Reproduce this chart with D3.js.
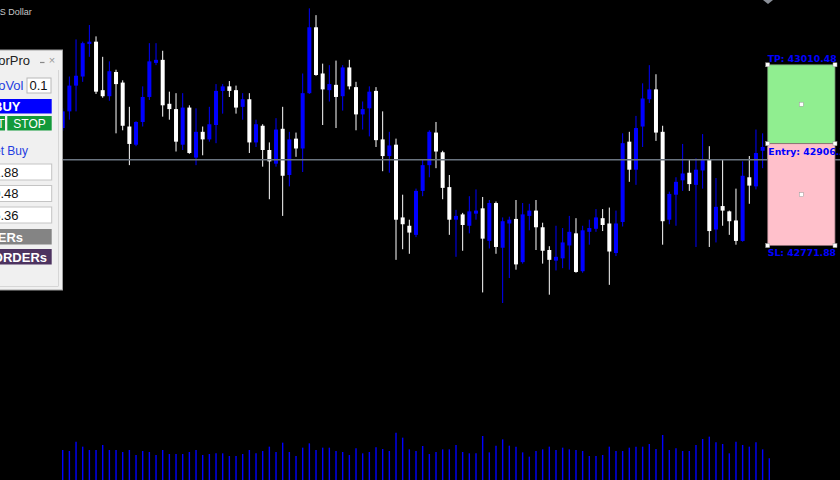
<!DOCTYPE html>
<html><head><meta charset="utf-8">
<script src="https://cdn.jsdelivr.net/npm/d3@7"></script>
<style>html,body{margin:0;padding:0;background:#000;overflow:hidden}</style>
</head><body><svg id="c" width="840" height="480"></svg>
<script>
// ---- data (BTCUSD) ----
const opens  = [42927,42949,42983,42995,43038,43041,42977,42969,43001,42987,42929,42905,42935,42968,43013,43017,42959,42952,42905,42954,42888,42922,42912,42931,42976,42982,42977,42955,42965,42908,42930,42898,42880,42926,42865,42913,42900,42973,43060,42999,42977,42984,42969,43007,42981,42945,42953,42976,42912,42890,42905,42809,42798,42786,42844,42878,42921,42895,42849,42806,42813,42798,42814,42821,42778,42828,42769,42801,42807,42750,42811,42818,42796,42766,42752,42755,42772,42788,42738,42790,42794,42808,42801,42762,42803,42909,42872,42929,42965,42978,42922,42806,42839,42858,42868,42852,42871,42885,42793,42824,42817,42805,42778,42862,42850,42897,42902];
const highs  = [42953,42995,43044,43041,43063,43048,43021,43015,43004,42990,42955,42936,42982,43039,43039,43029,42975,42973,42973,42957,42953,42929,42955,42985,42985,42989,42983,42973,42973,42938,42932,42908,42940,42955,42922,42921,42999,43085,43076,43012,43010,43016,43010,43017,42988,42962,42982,42981,42949,42922,42913,42839,42806,42847,42886,42924,42935,42897,42865,42819,42815,42837,42846,42836,42832,42830,42809,42810,42832,42828,42827,42832,42802,42771,42798,42795,42811,42808,42798,42806,42820,42820,42822,42818,42920,42922,42943,42986,43010,42998,42930,42843,42862,42906,42885,42887,42919,42903,42861,42886,42818,42847,42883,42890,42925,42920,42905];
const lows   = [42923,42938,42949,42988,43021,42972,42967,42963,42920,42924,42878,42903,42929,42964,43010,42942,42938,42896,42898,42893,42878,42891,42909,42907,42946,42968,42946,42938,42894,42902,42876,42833,42876,42811,42850,42889,42869,42972,42996,42931,42962,42927,42950,42978,42924,42925,42916,42902,42870,42868,42753,42767,42761,42783,42837,42862,42874,42833,42786,42757,42765,42788,42806,42710,42768,42761,42696,42729,42740,42748,42792,42766,42748,42707,42739,42742,42740,42736,42736,42773,42790,42791,42720,42758,42797,42856,42852,42902,42960,42910,42773,42800,42798,42844,42844,42770,42847,42770,42776,42798,42786,42773,42777,42827,42846,42874,42882];
const closes = [42949,42983,42996,43039,43041,42975,42969,43002,42985,42930,42906,42935,42968,43015,43017,42957,42952,42909,42954,42894,42922,42912,42932,42976,42982,42976,42954,42965,42908,42932,42898,42883,42925,42864,42912,42900,42973,43060,42997,42978,42985,42968,43007,42982,42945,42952,42975,42911,42890,42904,42806,42800,42789,42844,42878,42922,42896,42848,42806,42811,42799,42817,42818,42781,42828,42770,42804,42806,42747,42813,42818,42796,42765,42753,42757,42776,42790,42737,42792,42795,42809,42799,42764,42801,42907,42872,42927,42966,42978,42921,42804,42840,42856,42867,42853,42872,42885,42791,42823,42818,42804,42778,42864,42851,42894,42902,42885];
const volumes = [600,580,767,667,600,600,700,600,600,560,600,500,580,560,500,600,520,520,520,560,600,500,520,533,533,480,480,520,600,533,580,667,560,747,560,480,647,733,600,647,647,580,560,500,633,533,560,653,620,580,947,847,613,580,680,520,560,613,613,700,560,533,533,880,553,687,813,687,667,553,467,580,613,667,600,647,613,600,580,480,480,500,667,580,580,647,667,667,720,620,900,600,633,580,580,700,820,867,753,720,533,767,700,667,753,613,433];
const symbolTitle = "BTCUSD,M5:  Bitcoin vs US Dollar";
const tpPrice = 43010.48, entryPrice = 42906.36, slPrice = 42771.88;
const panelTitle = "TradeExecutorPro";
const panelValues = ["42771.88", "43010.48", "42906.36"];

// ---- scales ----
const W = 840, H = 480;
const svg = d3.select("#c");
svg.append("rect").attr("width", W).attr("height", H).attr("fill", "#000");
const n = closes.length;
const x = d3.scaleLinear().domain([0, n - 1]).range([62.7, 769.3]);
const y = d3.scaleLinear().domain([42462.4, 43096]).range([480, 0]);
const yv = d3.scaleLinear().domain([0, 1200]).range([480, 420]);
const idx = d3.range(n);

// title
svg.append("text").attr("x", 31.7).attr("y", 14.5).attr("text-anchor", "end")
  .attr("font-family", "Liberation Sans, Arial, sans-serif").attr("font-size", 9)
  .attr("fill", "#c8c8c8").text(symbolTitle);
// chart shift marker
svg.append("path").attr("d", "M763,0 L773,0 L768,4 Z").attr("fill", "#8a8f98");

// volumes
svg.append("g").selectAll("line").data(idx).join("line")
  .attr("x1", i => x(i)).attr("x2", i => x(i))
  .attr("y1", yv(0)).attr("y2", i => yv(volumes[i]))
  .attr("stroke", "#0000ff").attr("stroke-width", 1.4);

// candles
const cg = svg.append("g");
const bull = i => closes[i] >= opens[i];
cg.selectAll("line").data(idx).join("line")
  .attr("x1", i => x(i)).attr("x2", i => x(i))
  .attr("y1", i => y(highs[i])).attr("y2", i => y(lows[i]))
  .attr("stroke", i => bull(i) ? "#0000ff" : "#ffffff").attr("stroke-width", 1);
cg.selectAll("rect").data(idx).join("rect")
  .attr("x", i => x(i) - 2).attr("width", 4)
  .attr("y", i => y(Math.max(opens[i], closes[i])))
  .attr("height", i => Math.max(1.5, Math.abs(y(opens[i]) - y(closes[i]))))
  .attr("fill", i => bull(i) ? "#0000ff" : "#ffffff");

// bid line
svg.append("line").attr("x1", 0).attr("x2", W)
  .attr("y1", y(closes[n - 1])).attr("y2", y(closes[n - 1]))
  .attr("stroke", "#6a7480").attr("stroke-width", 1.5);

// TP / SL box
const bx0 = 767.7, bx1 = 835;
svg.append("rect").attr("x", bx0).attr("y", y(tpPrice)).attr("width", bx1 - bx0)
  .attr("height", y(entryPrice) - y(tpPrice)).attr("fill", "#90ee90")
  .attr("stroke", "#6a8a6a").attr("stroke-width", 0.8);
svg.append("rect").attr("x", bx0).attr("y", y(entryPrice)).attr("width", bx1 - bx0)
  .attr("height", y(slPrice) - y(entryPrice)).attr("fill", "#ffc0cb")
  .attr("stroke", "#8a6a70").attr("stroke-width", 0.8);
const handles = [[bx0, y(tpPrice)], [bx1, y(tpPrice)], [bx0, y(entryPrice)], [bx1, y(entryPrice)],
  [bx0, y(slPrice)], [bx1, y(slPrice)],
  [(bx0 + bx1) / 2, (y(tpPrice) + y(entryPrice)) / 2], [(bx0 + bx1) / 2, (y(entryPrice) + y(slPrice)) / 2]];
svg.append("g").selectAll("rect").data(handles).join("rect")
  .attr("x", d => d[0] - 2).attr("y", d => d[1] - 2).attr("width", 4).attr("height", 4)
  .attr("fill", "#ffffff").attr("stroke", "#999").attr("stroke-width", 0.5);
const lab = svg.append("g").attr("font-family", "DejaVu Sans, Verdana, sans-serif")
  .attr("font-size", 9.3).attr("font-weight", "bold").attr("fill", "#0000ff");
lab.append("text").attr("x", 767.7).attr("y", y(tpPrice) - 2.5).text("TP: " + tpPrice.toFixed(2));
lab.append("text").attr("x", 768.3).attr("y", y(entryPrice) + 11).text("Entry: " + entryPrice.toFixed(2));
lab.append("text").attr("x", 767.7).attr("y", y(slPrice) + 10.5).text("SL: " + slPrice.toFixed(2));

// ---- trade panel (left, partly off-screen) ----
const p = svg.append("g").attr("font-family", "Liberation Sans, Arial, sans-serif").attr("font-size", 13);
p.append("rect").attr("x", -20).attr("y", 50).attr("width", 82.5).attr("height", 240)
  .attr("fill", "#f0f0f0").attr("stroke", "#a0a0a0").attr("stroke-width", 1);
p.append("line").attr("x1", 58.5).attr("x2", 58.5).attr("y1", 70).attr("y2", 286)
  .attr("stroke", "#d6d6d6");
p.append("line").attr("x1", -20).attr("x2", 58.5).attr("y1", 286.5).attr("y2", 286.5)
  .attr("stroke", "#d6d6d6");
p.append("text").attr("x", 30).attr("y", 65).attr("text-anchor", "end").attr("fill", "#222").text(panelTitle);
p.append("line").attr("x1", 40).attr("x2", 44.5).attr("y1", 62.5).attr("y2", 62.5).attr("stroke", "#888").attr("stroke-width", 1.2);
p.append("text").attr("x", 52).attr("y", 64).attr("text-anchor", "middle").attr("fill", "#999")
  .attr("font-size", 11).text("×");

p.append("text").attr("x", 23.5).attr("y", 90).attr("text-anchor", "end").attr("fill", "#1f3ee0").text("AutoVol");
p.append("rect").attr("x", 27).attr("y", 78).attr("width", 24).attr("height", 15)
  .attr("fill", "#fff").attr("stroke", "#b8b8b8");
p.append("text").attr("x", 29.5).attr("y", 90).attr("fill", "#111").text("0.1");

p.append("rect").attr("x", -20).attr("y", 99).attr("width", 71.7).attr("height", 14.5).attr("fill", "#0000ff");
p.append("text").attr("x", 20.5).attr("y", 111).attr("text-anchor", "end").attr("fill", "#fff")
  .attr("font-weight", "bold").text("BUY");

p.append("rect").attr("x", -20).attr("y", 116).attr("width", 25).attr("height", 14.5).attr("fill", "#12993a");
p.append("text").attr("x", 4.5).attr("y", 128).attr("text-anchor", "end").attr("fill", "#fff")
  .attr("font-size", 12).text("LIMIT");
p.append("rect").attr("x", 7.3).attr("y", 116).attr("width", 44.4).attr("height", 14.5).attr("fill", "#12993a");
p.append("text").attr("x", 29.5).attr("y", 128).attr("text-anchor", "middle").attr("fill", "#fff")
  .attr("font-size", 12).text("STOP");

p.append("text").attr("x", 28).attr("y", 155).attr("text-anchor", "end").attr("fill", "#1f3ee0")
  .attr("font-size", 12).text("Market Buy");

const boxY = [164, 185.5, 207];
panelValues.forEach((v, k) => {
  p.append("rect").attr("x", -20).attr("y", boxY[k]).attr("width", 71.7).attr("height", 16)
    .attr("fill", "#fff").attr("stroke", "#c4c4c4");
  p.append("text").attr("x", 18.5).attr("y", boxY[k] + 12.5).attr("text-anchor", "end")
    .attr("fill", "#111").text(v);
});

p.append("rect").attr("x", -20).attr("y", 229).attr("width", 71.7).attr("height", 15.5).attr("fill", "#848484");
p.append("text").attr("x", 23).attr("y", 241.5).attr("text-anchor", "end").attr("fill", "#fff")
  .attr("font-weight", "bold").text("CLOSE ORDERs");
p.append("rect").attr("x", -20).attr("y", 249).attr("width", 71.7).attr("height", 15.5).attr("fill", "#4d3360");
p.append("text").attr("x", 47).attr("y", 261.5).attr("text-anchor", "end").attr("fill", "#fff")
  .attr("font-weight", "bold").text("DELETE ORDERs");
</script></body></html>
